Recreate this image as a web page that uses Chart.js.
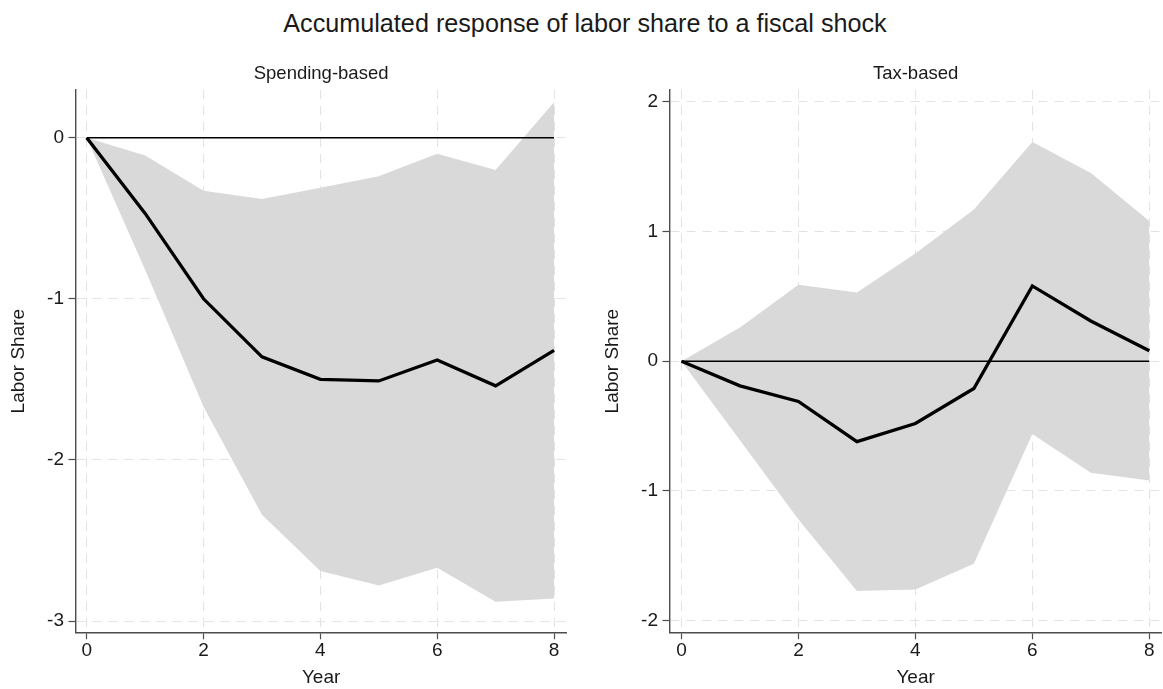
<!DOCTYPE html>
<html>
<head>
<meta charset="utf-8">
<script src="https://cdn.jsdelivr.net/npm/chart.js@4/dist/chart.umd.min.js"></script>
<style>
  html, body { margin: 0; padding: 0; background: #fff; }
  body { width: 1163px; height: 689px; position: relative; overflow: hidden; }
  #mainTitle {
    position: absolute; left: 0; top: 11px; width: 1170px;
    text-align: center; font: 25.2px/25px 'Liberation Sans', Arial, sans-serif; color: #1a1a1a;
  }
  canvas { position: absolute; top: 0; }
  #spend { left: 0; }
  #tax { left: 581px; }
</style>
</head>
<body>
<div id="mainTitle">Accumulated response of labor share to a fiscal shock</div>
<canvas id="spend" width="581" height="689"></canvas>
<canvas id="tax" width="582" height="689"></canvas>
<script>
// Horizon (years after the shock)
const years = [0, 1, 2, 3, 4, 5, 6, 7, 8];

// Spending-based consolidation: point estimate and confidence band
const spendEst   = [0, -0.47, -1.00, -1.36, -1.50, -1.51, -1.38, -1.54, -1.32];
const spendUpper = [0, -0.11, -0.33, -0.38, -0.31, -0.24, -0.10, -0.20, 0.22];
const spendLower = [0, -0.82, -1.67, -2.34, -2.69, -2.78, -2.67, -2.88, -2.86];

// Tax-based consolidation: point estimate and confidence band
const taxEst   = [0, -0.19, -0.31, -0.62, -0.48, -0.21, 0.58, 0.31, 0.08];
const taxUpper = [0, 0.26, 0.59, 0.53, 0.83, 1.17, 1.69, 1.45, 1.08];
const taxLower = [0, -0.61, -1.22, -1.77, -1.76, -1.56, -0.56, -0.86, -0.92];

// Tick labels
const xTicks = [0, 2, 4, 6, 8];
const spendYTicks = [0, -1, -2, -3];
const taxYTicks = [2, 1, 0, -1, -2];

const FONT = "'Liberation Sans', Arial, sans-serif";
const TEXT = '#1a1a1a';
const AXIS = '#4d4d4d';
const GRID = '#e3e3e3';
const BAND = '#d9d9d9';

const pts = vals => years.map((x, i) => ({ x, y: vals[i] }));

function panel(canvasId, title, est, upper, lower, yTicks, yMin, yMax, xMin, xMax, pad) {
  const zero = years.map(() => 0);
  return new Chart(document.getElementById(canvasId), {
    type: 'line',
    data: {
      datasets: [
        { label: 'Estimate', data: pts(est), borderColor: '#000', borderWidth: 3.3,
          pointRadius: 0, tension: 0, fill: false, borderJoinStyle: 'miter' },
        { label: 'Zero', data: pts(zero), borderColor: '#000', borderWidth: 1.4,
          pointRadius: 0, tension: 0, fill: false },
        { label: 'Upper', data: pts(upper), borderColor: 'rgba(0,0,0,0)', borderWidth: 0,
          backgroundColor: BAND, pointRadius: 0, tension: 0, fill: '+1' },
        { label: 'Lower', data: pts(lower), borderColor: 'rgba(0,0,0,0)', borderWidth: 0,
          pointRadius: 0, tension: 0, fill: false }
      ]
    },
    options: {
      responsive: false,
      animation: false,
      devicePixelRatio: 1,
      layout: { padding: pad },
      plugins: {
        legend: { display: false },
        tooltip: { enabled: false },
        title: {
          display: true, text: title, color: TEXT, fullSize: false,
          font: { family: FONT, size: 18.5, weight: 'normal', lineHeight: 1.2 },
          padding: { top: 22.5, bottom: 5.3 }
        }
      },
      scales: {
        x: {
          type: 'linear', min: xMin, max: xMax,
          afterBuildTicks: s => { s.ticks = xTicks.map(v => ({ value: v })); },
          afterFit: s => { s.height = 56.7; },
          ticks: { color: TEXT, font: { family: FONT, size: 19, lineHeight: 1.2 },
                   padding: 0.5, autoSkip: false, maxRotation: 0, callback: v => String(v) },
          grid: { color: GRID, lineWidth: 1, tickLength: 7, tickColor: AXIS, tickWidth: 1.2,
                  tickBorderDash: [] },
          border: { color: AXIS, width: 1.4, dash: [9, 7] },
          title: { display: true, text: 'Year', color: TEXT,
                   font: { family: FONT, size: 19, lineHeight: 1.2 }, padding: { top: 0, bottom: 0 } }
        },
        y: {
          type: 'linear', min: yMin, max: yMax,
          afterBuildTicks: s => { s.ticks = yTicks.map(v => ({ value: v })); },
          afterFit: s => { s.width = 73.5; },
          ticks: { color: TEXT, font: { family: FONT, size: 19, lineHeight: 1.2 },
                   padding: 4.5, autoSkip: false, callback: v => String(v) },
          grid: { color: GRID, lineWidth: 1, tickLength: 7, tickColor: AXIS, tickWidth: 1.2,
                  tickBorderDash: [] },
          border: { color: AXIS, width: 1.4, dash: [9, 7] },
          title: { display: true, text: 'Labor Share', color: TEXT,
                   font: { family: FONT, size: 19, lineHeight: 1.2 }, padding: { top: 5, bottom: 0 } }
        }
      }
    }
  });
}

panel('spend', 'Spending-based', spendEst, spendUpper, spendLower, spendYTicks,
      -3.070, 0.296, -0.192, 8.217, { left: 2, right: 14.3, top: 40, bottom: 0 });
panel('tax', 'Tax-based', taxEst, taxUpper, taxLower, taxYTicks,
      -2.089, 2.090, -0.205, 8.212, { left: 15, right: 1.3, top: 40, bottom: 0 });
</script>
</body>
</html>
